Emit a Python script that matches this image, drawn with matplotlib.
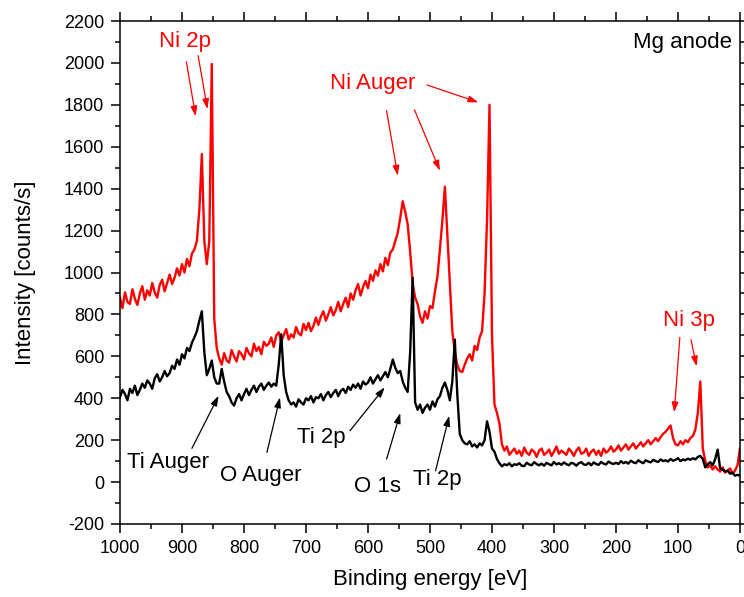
"""
XPS survey spectra (Mg anode): Ni-coated sample (red) vs. bare Ti substrate (black).
"""

import matplotlib.pyplot as plt
import matplotlib.ticker as ticker
import numpy as np

plt.rcParams["font.family"] = ["Liberation Sans", "DejaVu Sans"]
plt.rcParams["axes.unicode_minus"] = False

# Binding energy grid, 4 eV steps from 1000 down to 0
energy = np.arange(1000, -1, -4)

# Intensities, 10 points per row (row k starts at 1000 - 40k eV)
red_counts = [
    880, 830, 905, 860, 850, 920, 875, 845, 900, 935,           # 1000..964
    870, 915, 890, 950, 905, 880, 940, 965, 910, 950,           # 960..924
    990, 945, 975, 1020, 985, 1040, 1000, 1065, 1030, 1090,     # 920..884
    1110, 1150, 1300, 1565, 1150, 1040, 1150, 1995, 780, 640,   # 880..844
    590, 560, 615, 580, 570, 630, 600, 575, 625, 610,           # 840..804
    585, 640, 615, 600, 660, 625, 645, 610, 670, 650,           # 800..764
    660, 690, 645, 700, 715, 670, 700, 730, 680, 705,           # 760..724
    690, 740, 710, 700, 755, 725, 760, 720, 745, 785,           # 720..684
    750, 790, 815, 770, 800, 835, 795, 820, 860, 815,           # 680..644
    850, 880, 835, 900, 870, 915, 945, 890, 930, 960,           # 640..604
    925, 990, 960, 1010, 985, 1040, 1005, 1070, 1035, 1095,     # 600..564
    1110, 1150, 1190, 1260, 1340, 1290, 1230, 1100, 950, 880,   # 560..524
    850, 790, 760, 815, 780, 840, 830, 910, 980, 1110,          # 520..484
    1250, 1410, 1180, 950, 720, 620, 560, 530, 525, 560,        # 480..444
    590, 610, 580, 650, 630, 690, 720, 900, 1250, 1800,         # 440..404
    700, 370, 330, 280, 180, 150, 170, 130, 145, 160,           # 400..364
    135, 150, 125, 165, 140, 130, 155, 145, 120, 150,           # 360..324
    160, 130, 140, 155, 125, 145, 170, 135, 150, 140,           # 320..284
    130, 160, 145, 125, 150, 165, 135, 140, 160, 125,           # 280..244
    145, 155, 130, 150, 125, 160, 140, 150, 170, 145,           # 240..204
    155, 175, 150, 165, 180, 155, 170, 185, 160, 175,           # 200..164
    190, 170, 185, 200, 180, 195, 210, 195, 215, 230,           # 160..124
    240, 255, 270, 210, 180, 175, 195, 180, 200, 190,           # 120..84
    210, 220, 250, 330, 480, 160, 100, 70, 80, 60,              # 80..44
    75, 60, 50, 70, 45, 55, 65, 40, 55, 80,                     # 40..4
    160,                                                        # 0
]

black_counts = [
    405, 440, 420, 390, 445, 425, 460, 415, 440, 470,           # 1000..964
    450, 485, 470, 445, 495, 515, 480, 500, 530, 505,           # 960..924
    520, 555, 540, 585, 560, 610, 590, 640, 625, 665,           # 920..884
    690, 720, 770, 815, 620, 510, 540, 580, 500, 470,           # 880..844
    470, 540, 480, 430, 410, 380, 365, 400, 420, 390,           # 840..804
    420, 445, 415, 440, 460, 430, 455, 470, 440, 460,           # 800..764
    475, 455, 470, 460, 560, 705, 510, 430, 390, 370,           # 760..724
    380, 360, 395, 380, 370, 400, 390, 410, 380, 405,           # 720..684
    400, 420, 390, 415, 430, 405, 425, 440, 410, 435,           # 680..644
    445, 425, 455, 440, 465, 450, 470, 445, 480, 465,           # 640..604
    475, 500, 470, 490, 510, 485, 505, 525, 500, 540,           # 600..564
    585, 545, 520, 530, 480, 450, 430, 620, 975, 380,           # 560..524
    345, 370, 330, 355, 370, 345, 385, 360, 395, 410,           # 520..484
    450, 475, 440, 390, 480, 680, 420, 230, 200, 185,           # 480..444
    180, 195, 170, 180, 165, 185, 175, 200, 290, 240,           # 440..404
    160, 145, 110, 90, 75, 85, 80, 90, 75, 85,                  # 400..364
    82, 90, 78, 76, 92, 84, 80, 95, 86, 80,                     # 360..324
    88, 78, 92, 85, 80, 96, 84, 90, 82, 94,                     # 320..284
    86, 80, 92, 88, 78, 90, 95, 84, 82, 92,                     # 280..244
    80, 94, 86, 82, 96, 88, 84, 98, 90, 86,                     # 240..204
    92, 86, 100, 90, 96, 88, 102, 94, 90, 104,                  # 200..164
    96, 90, 104, 98, 94, 106, 100, 96, 108, 100,                # 160..124
    104, 98, 110, 102, 106, 114, 100, 108, 104, 112,            # 120..84
    106, 114, 108, 120, 125, 110, 70, 85, 95, 80,               # 80..44
    110, 155, 65, 60, 50, 55, 40, 45, 30, 35,                   # 40..4
    30,                                                         # 0
]

red_labels = ["Ni 2p", "Ni Auger", "Ni 3p"]
black_labels = ["Ti Auger", "O Auger", "Ti 2p", "O 1s", "Ti 2p"]

fig, ax = plt.subplots(figsize=(7.44, 5.97), dpi=100)
fig.subplots_adjust(left=0.1613, right=0.9946, bottom=0.1223, top=0.9648)

ax.plot(energy, red_counts, color="#ff0000", lw=1.7)
ax.plot(energy, black_counts, color="black", lw=1.7)

ax.set_xlim(1000, 0)
ax.set_ylim(-200, 2200)
ax.xaxis.set_major_locator(ticker.MultipleLocator(100))
ax.xaxis.set_minor_locator(ticker.MultipleLocator(50))
ax.yaxis.set_major_locator(ticker.MultipleLocator(200))
ax.yaxis.set_minor_locator(ticker.MultipleLocator(100))
ax.tick_params(which="both", direction="out", top=True, right=True,
               labeltop=False, labelright=False, width=1.1)
ax.tick_params(which="major", length=6.5, labelsize=13, pad=5)
ax.tick_params(which="minor", length=3.5)
for s in ax.spines.values():
    s.set_linewidth(1.1)

ax.set_xlabel("Binding energy [eV]", fontsize=16, labelpad=9)
ax.set_ylabel("Intensity [counts/s]", fontsize=16, labelpad=20)

ax.text(0.987, 0.958, "Mg anode", transform=ax.transAxes, ha="right",
        va="center", fontsize=16)

arrow = dict(arrowstyle="-|>,head_length=0.6,head_width=0.2", lw=0.9,
             mutation_scale=10, shrinkA=0, shrinkB=0)

# red labels
ax.text(895, 2100, red_labels[0], color="red", fontsize=16, ha="center", va="center")
ax.text(592, 1900, red_labels[1], color="red", fontsize=16, ha="center", va="center")
ax.text(82, 770, red_labels[2], color="red", fontsize=16, ha="center", va="center")
for tail, head in [((893, 2006), (878, 1745)), ((874, 2035), (859, 1780)),
                   ((570, 1772), (552, 1462)), ((525, 1776), (484, 1486)),
                   ((505, 1895), (422, 1812)),
                   ((97, 690), (106, 333)), ((79, 679), (70, 552))]:
    ax.annotate("", xy=head, xytext=tail, arrowprops=dict(arrow, color="red"))

# black labels
for lab, pos in zip(black_labels, [(923, 94), (773, 30), (675, 213), (585, -21), (488, 14)]):
    ax.text(pos[0], pos[1], lab, color="black", fontsize=16, ha="center", va="center")
for tail, head in [((884, 161), (841, 412)), ((763, 142), (742, 404)),
                   ((629, 245), (573, 452)), ((570, 110), (548, 329)),
                   ((491, 54), (469, 316))]:
    ax.annotate("", xy=head, xytext=tail, arrowprops=dict(arrow, color="black"))

fig.savefig("out.png", dpi=100)
plt.close(fig)
